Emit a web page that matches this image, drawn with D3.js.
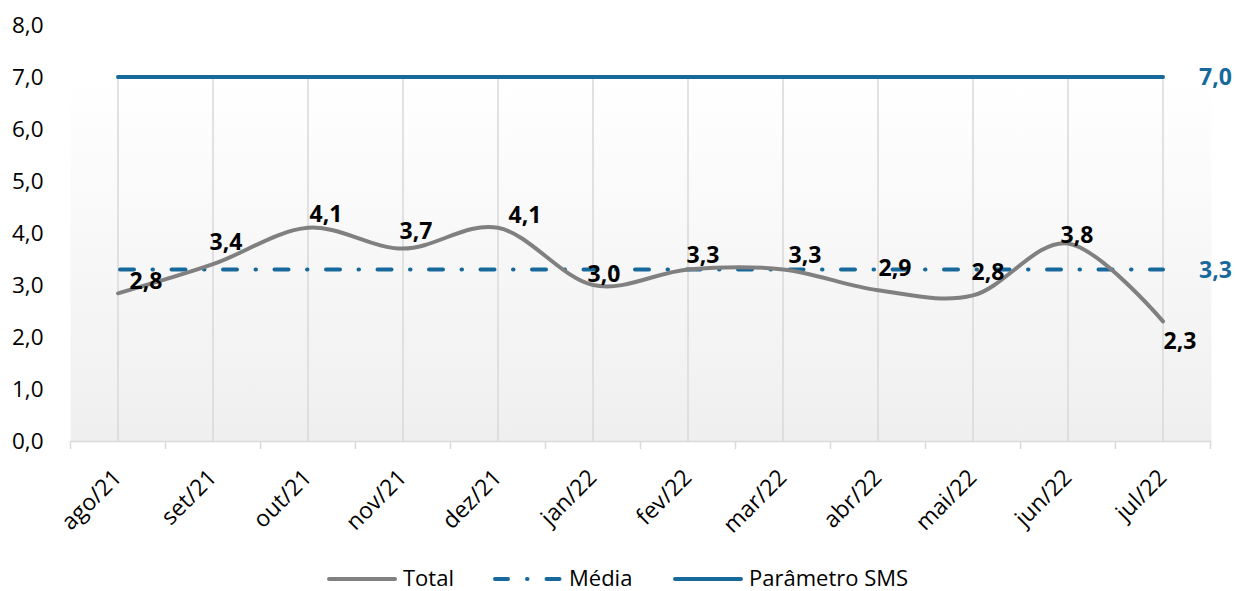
<!DOCTYPE html>
<html>
<head>
<meta charset="utf-8">
<script src="https://cdn.jsdelivr.net/npm/d3@7"></script>
<style>
  body { margin: 0; background: #fff; }
  text { font-family: "Open Sans", sans-serif; }
</style>
</head>
<body>
<div id="chart"></div>
<script>
// data
const months = ["ago/21", "set/21", "out/21", "nov/21", "dez/21", "jan/22",
                "fev/22", "mar/22", "abr/22", "mai/22", "jun/22", "jul/22"];
const total = [2.84, 3.4, 4.1, 3.7, 4.1, 3.0, 3.3, 3.3, 2.9, 2.8, 3.8, 2.3];
const media = 3.3;
const parametroSMS = 7.0;
const yTicks = [0, 1, 2, 3, 4, 5, 6, 7, 8];
// label offsets (px) relative to each point
const labelOffsets = [[28, -13], [13, -22], [18, -14], [13, -18], [27, -13], [11, -11],
                      [15, -15], [22, -15], [17, -22], [15, -24], [9, -9], [17, 19]];

const W = 1235, H = 591;
const margin = {top: 25, right: 24, bottom: 150, left: 70.5};
const height = H - margin.top - margin.bottom;

const svg = d3.select("#chart").append("svg")
    .attr("width", W).attr("height", H);

const g = svg.append("g").attr("transform", `translate(${margin.left},${margin.top})`);

const x = d3.scaleBand().domain(months).range([0, 1140]);
const cx = d => x(d) + x.bandwidth() / 2;
const y = d3.scaleLinear().domain([0, 8]).range([height, 0]);

const blue = "#17699c";
const mediaDash = "14,18.5,0.5,18.5";
const fmt = v => d3.format(".1f")(v).replace(".", ",");

// background gradient
const defs = svg.append("defs");
const grad = defs.append("linearGradient").attr("id", "bg")
    .attr("x1", 0).attr("y1", 0).attr("x2", 0).attr("y2", 1);
grad.append("stop").attr("offset", "0%").attr("stop-color", "#ffffff");
grad.append("stop").attr("offset", "100%").attr("stop-color", "#efefef");

g.append("rect")
    .attr("x", 0).attr("y", y(parametroSMS) + 3)
    .attr("width", 1141).attr("height", y(0) - y(parametroSMS) - 3)
    .attr("fill", "url(#bg)");

// drop lines
g.selectAll(".drop").data(months).enter().append("line")
    .attr("x1", cx).attr("x2", cx)
    .attr("y1", y(parametroSMS)).attr("y2", y(0))
    .attr("stroke", "#d9d9d9").attr("stroke-width", 1.5);

// x axis
const xAxis = g.append("g")
    .attr("transform", `translate(0,${y(0)})`)
    .call(d3.axisBottom(x).tickSize(0).tickFormat(""));
xAxis.select(".domain").attr("stroke", "#d9d9d9").attr("stroke-width", 1.5);
g.selectAll(".btick").data(d3.range(months.length + 1)).enter().append("line")
    .attr("x1", i => i * x.bandwidth()).attr("x2", i => i * x.bandwidth())
    .attr("y1", y(0)).attr("y2", y(0) + 8)
    .attr("stroke", "#d9d9d9").attr("stroke-width", 1.5);

g.selectAll(".xlab").data(months).enter().append("text")
    .attr("transform", d => `translate(${cx(d) + 5},${y(0) + 38}) rotate(-45)`)
    .attr("text-anchor", "end")
    .attr("font-size", "23px")
    .attr("fill", "#000")
    .text(d => d);

// y axis labels
const yAxis = g.append("g")
    .call(d3.axisLeft(y).tickValues(yTicks).tickSize(0).tickPadding(27).tickFormat(fmt));
yAxis.select(".domain").remove();
yAxis.selectAll("text").attr("font-size", "22.5px").attr("fill", "#000")
    .style("font-family", "'Open Sans', sans-serif");

// parametro line
g.append("line")
    .attr("x1", cx(months[0])).attr("x2", cx(months[months.length - 1]))
    .attr("y1", y(parametroSMS)).attr("y2", y(parametroSMS))
    .attr("stroke", blue).attr("stroke-width", 4).attr("stroke-linecap", "round");

// media line
g.append("line")
    .attr("x1", cx(months[0]) + 2).attr("x2", cx(months[months.length - 1]))
    .attr("y1", y(media)).attr("y2", y(media))
    .attr("stroke", blue).attr("stroke-width", 4).attr("stroke-linecap", "round")
    .attr("stroke-dasharray", mediaDash);

// total line
const line = d3.line()
    .x((d, i) => cx(months[i]))
    .y(d => y(d))
    .curve(d3.curveCatmullRom.alpha(0));
g.append("path").datum(total)
    .attr("d", line)
    .attr("fill", "none").attr("stroke", "#808080").attr("stroke-width", 4)
    .attr("stroke-linecap", "round");

// data labels
g.selectAll(".dl").data(total).enter().append("text")
    .attr("x", (d, i) => cx(months[i]) + labelOffsets[i][0])
    .attr("y", (d, i) => y(d) + labelOffsets[i][1])
    .attr("dy", "0.36em")
    .attr("text-anchor", "middle")
    .attr("font-size", "23px").attr("font-weight", "bold").attr("fill", "#000")
    .text(fmt);

// right-side labels
[parametroSMS, media].forEach(v => {
    g.append("text")
        .attr("x", 1128.5).attr("y", y(v)).attr("dy", "0.36em")
        .attr("font-size", "23px").attr("font-weight", "bold").attr("fill", blue)
        .text(fmt(v));
});

// legend
const legendItems = [
    {name: "Total", color: "#808080", dash: null, x0: 329},
    {name: "Média", color: blue, dash: "13,19,0.5,19", x0: 495},
    {name: "Parâmetro SMS", color: blue, dash: null, x0: 675}
];
const leg = svg.append("g");
legendItems.forEach(it => {
    leg.append("line")
        .attr("x1", it.x0).attr("x2", it.x0 + 66)
        .attr("y1", 579).attr("y2", 579)
        .attr("stroke", it.color).attr("stroke-width", 4)
        .attr("stroke-linecap", "round")
        .attr("stroke-dasharray", it.dash);
    leg.append("text")
        .attr("x", it.x0 + 74).attr("y", 578).attr("dy", "0.36em")
        .attr("font-size", "22px").attr("fill", "#000")
        .text(it.name);
});
</script>
</body>
</html>
